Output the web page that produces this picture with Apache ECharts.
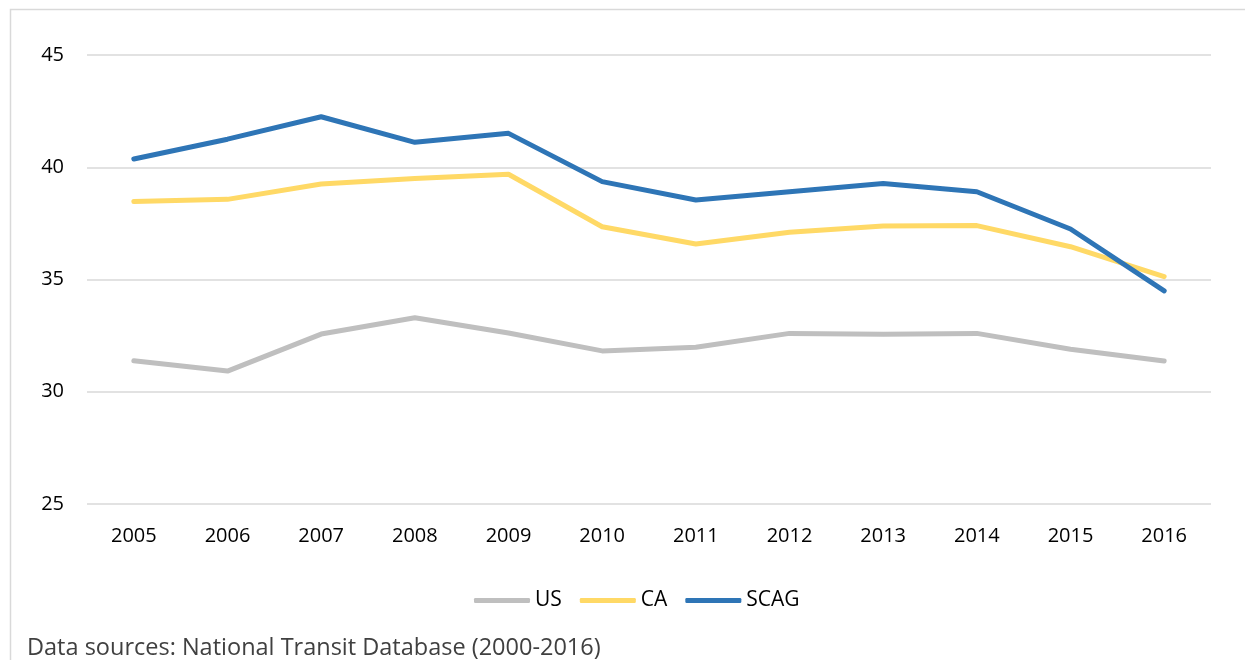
<!DOCTYPE html>
<html>
<head>
<meta charset="utf-8">
<script src="https://cdn.jsdelivr.net/npm/echarts@6/dist/echarts.min.js"></script>
<style>
  html, body { margin: 0; padding: 0; background: #fff; }
  #chart { width: 1245px; height: 660px; }
</style>
</head>
<body>
<div id="chart"></div>
<script>
// years on the x axis
const years = ['2005', '2006', '2007', '2008', '2009', '2010', '2011', '2012', '2013', '2014', '2015', '2016'];
// series values
const us = [31.38, 30.92, 32.57, 33.3, 32.62, 31.82, 31.98, 32.6, 32.56, 32.6, 31.89, 31.37];
const ca = [38.47, 38.57, 39.25, 39.5, 39.69, 37.35, 36.58, 37.1, 37.38, 37.4, 36.46, 35.13];
const scag = [40.37, 41.25, 42.25, 41.11, 41.51, 39.36, 38.54, 38.91, 39.28, 38.91, 37.25, 34.49];
const yTicks = [25, 30, 35, 40, 45];

const font = '"Open Sans", "Liberation Sans", sans-serif';

const chart = echarts.init(document.getElementById('chart'));

function lineSeries(name, data, color) {
  return {
    name: name,
    type: 'line',
    data: data,
    symbol: 'none',
    smooth: false,
    lineStyle: { color: color, width: 5, cap: 'round', join: 'round' },
    itemStyle: { color: color }
  };
}

const option = {
  backgroundColor: '#fff',
  animation: false,
  textStyle: { fontFamily: font },
  grid: { left: 87, right: 34, top: 55, bottom: 156 },
  legend: {
    bottom: 44,
    left: 469,
    icon: 'roundRect',
    itemWidth: 56,
    itemHeight: 5,
    itemGap: 18,
    textStyle: { fontFamily: font, fontSize: 21, color: '#000' },
    data: ['US', 'CA', 'SCAG']
  },
  xAxis: {
    type: 'category',
    data: years,
    boundaryGap: true,
    axisLine: { show: false },
    axisTick: { show: false },
    axisLabel: { fontFamily: font, fontSize: 20, color: '#000', margin: 22 }
  },
  yAxis: {
    type: 'value',
    min: yTicks[0],
    max: yTicks[yTicks.length - 1],
    interval: 5,
    axisLine: { show: false },
    axisTick: { show: false },
    splitLine: { lineStyle: { color: '#d9d9d9', width: 1.5 } },
    axisLabel: { fontFamily: font, fontSize: 20, color: '#000', margin: 23 }
  },
  graphic: [
    {
      type: 'rect',
      left: 8, top: 7,
      shape: { width: 1300, height: 720 },
      style: { fill: 'none', stroke: '#d9d9d9', lineWidth: 1.5 },
      silent: true,
      z: -1
    },
    {
      type: 'text',
      left: 27, top: 636,
      style: {
        text: 'Data sources: National Transit Database (2000-2016)',
        font: '23.5px ' + font,
        fill: '#404040'
      }
    }
  ],
  series: [
    lineSeries('US', us, '#bfbfbf'),
    lineSeries('CA', ca, '#ffd966'),
    lineSeries('SCAG', scag, '#2e75b6')
  ]
};

chart.setOption(option);
</script>
</body>
</html>
